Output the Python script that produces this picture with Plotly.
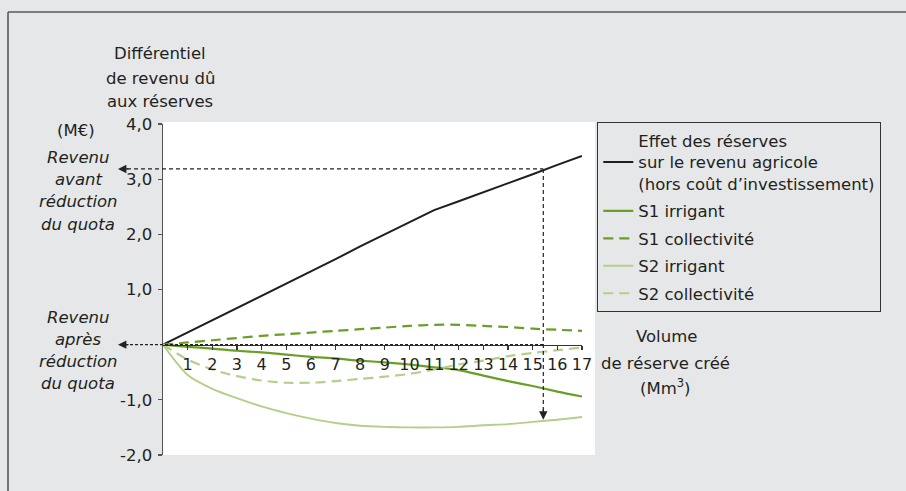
import plotly.graph_objects as go

# ---------------- data ----------------
volume = list(range(0, 18))
effet_total = [0.0, 0.22, 0.44, 0.67, 0.89, 1.11, 1.33, 1.55, 1.78, 2.0, 2.22, 2.44,
               2.6, 2.76, 2.92, 3.09, 3.26, 3.42]
s1_irrigant = [0.0, -0.04, -0.07, -0.11, -0.14, -0.18, -0.22, -0.25, -0.29, -0.32, -0.36,
               -0.41, -0.46, -0.56, -0.66, -0.75, -0.85, -0.94]
s1_collectivite = [0.0, 0.04, 0.08, 0.12, 0.16, 0.19, 0.22, 0.25, 0.28, 0.31, 0.34, 0.36,
                   0.36, 0.34, 0.32, 0.29, 0.27, 0.25]
s2_irrigant = [0.0, -0.55, -0.80, -0.97, -1.12, -1.24, -1.34, -1.42, -1.47, -1.49, -1.50,
               -1.50, -1.49, -1.46, -1.44, -1.40, -1.36, -1.31]
s2_collectivite = [0.0, -0.27, -0.45, -0.57, -0.65, -0.69, -0.69, -0.66, -0.62, -0.58, -0.53,
                   -0.45, -0.36, -0.29, -0.21, -0.15, -0.10, -0.05]

series_names = ["Effet des réserves<br>sur le revenu agricole<br>(hors coût d’investissement)",
                "S1 irrigant", "S1 collectivité", "S2 irrigant", "S2 collectivité"]

x_tickvals = list(range(1, 18))
x_ticktext = [str(v) for v in x_tickvals]
y_tickvals = [-2, -1, 1, 2, 3, 4]
y_ticktext = ["-2,0", "-1,0", "1,0", "2,0", "3,0", "4,0"]

# reading guide (volume giving the "before quota reduction" income)
guide_x = 15.43
guide_y_top = 3.185
guide_y_bottom = -1.36

# ---------------- layout helpers ----------------
W, H = 906, 491
ML, MR, MT, MB = 163, 311, 122, 36
PW, PH = W - ML - MR, H - MT - MB
X_MAX = 17
Y_MIN, Y_MAX = -2, 4
XD = (582 - ML) / PW     # x-axis domain end
YD = (455 - 124) / PH    # y-axis domain top


def px(X):
    return (X - ML) / PW


def py(Y):
    return (H - MB - Y) / PH


def xdata_to_paper(v):
    return XD * v / X_MAX


FONT = "DejaVu Sans"
TXT = "#231f20"
BG = "#e6e7e8"
DARK_GREEN = "#6a9e25"
LIGHT_GREEN = "#b3cf8a"

fig = go.Figure()

styles = [
    dict(color="#1e1e1e", width=2.0, dash="solid", shape="linear"),
    dict(color=DARK_GREEN, width=2.2, dash="solid", shape="spline"),
    dict(color=DARK_GREEN, width=2.2, dash="10px,6px", shape="spline"),
    dict(color=LIGHT_GREEN, width=1.9, dash="solid", shape="spline"),
    dict(color=LIGHT_GREEN, width=2.2, dash="10px,6px", shape="spline"),
]
values = [effet_total, s1_irrigant, s1_collectivite, s2_irrigant, s2_collectivite]

for i, (name, vals, st) in enumerate(zip(series_names, values, styles)):
    fig.add_trace(go.Scatter(
        x=volume, y=vals, mode="lines", name=name, legendgroup=f"g{i}",
        line=dict(color=st["color"], width=st["width"], dash=st["dash"],
                  shape=st["shape"], smoothing=0.8 if st["shape"] == "spline" else None),
        hoverinfo="skip", cliponaxis=False,
    ))

shapes = []
# white plotting area
shapes.append(dict(type="rect", xref="paper", yref="paper", x0=0, x1=1, y0=0, y1=1,
                   fillcolor="white", line=dict(width=0), layer="below"))
# outer frame (top and left)
shapes.append(dict(type="line", xref="paper", yref="paper", x0=px(8), x1=px(906),
                   y0=py(12), y1=py(12), line=dict(color="#58595b", width=1.6)))
shapes.append(dict(type="line", xref="paper", yref="paper", x0=px(8), x1=px(8),
                   y0=py(12), y1=py(491), line=dict(color="#58595b", width=1.6)))
# reading guides
shapes.append(dict(type="line", xref="paper", yref="y", x0=px(120), x1=xdata_to_paper(guide_x),
                   y0=guide_y_top, y1=guide_y_top, line=dict(color="#222", width=1.2, dash="4px,3px")))
shapes.append(dict(type="line", xref="x", yref="y", x0=guide_x, x1=guide_x,
                   y0=guide_y_top, y1=guide_y_bottom + 0.1, line=dict(color="#222", width=1.2, dash="4px,3px")))
shapes.append(dict(type="line", xref="paper", yref="y", x0=px(120), x1=xdata_to_paper(guide_x),
                   y0=0, y1=0, line=dict(color="#222", width=1.4, dash="3px,2px")))

annotations = []
# arrow heads
annotations.append(dict(xref="paper", yref="y", x=px(118), y=guide_y_top, ax=12, ay=0, text="",
                        showarrow=True, arrowhead=2, arrowsize=1.4, arrowwidth=1.2, arrowcolor="#222"))
annotations.append(dict(xref="paper", yref="y", x=px(118), y=0, ax=12, ay=0, text="",
                        showarrow=True, arrowhead=2, arrowsize=1.4, arrowwidth=1.2, arrowcolor="#222"))
annotations.append(dict(xref="x", yref="y", x=guide_x, y=guide_y_bottom, ax=0, ay=-12, text="",
                        showarrow=True, arrowhead=2, arrowsize=1.4, arrowwidth=1.2, arrowcolor="#222"))


def label(text, X, Y, italic=False, size=16.5):
    t = f"<i>{text}</i>" if italic else text
    annotations.append(dict(xref="paper", yref="paper", x=px(X), y=py(Y), text=t,
                            showarrow=False, xanchor="center", yanchor="middle",
                            font=dict(family=FONT, size=size, color=TXT)))


label("Différentiel", 160, 54)
label("de revenu dû", 160, 78)
label("aux réserves", 160, 101)
label("(M€)", 76, 131)
for t, Y in [("Revenu", 157), ("avant", 179), ("réduction", 201), ("du quota", 224)]:
    label(t, 78, Y, italic=True)
for t, Y in [("Revenu", 317), ("après", 339), ("réduction", 361), ("du quota", 383)]:
    label(t, 78, Y, italic=True)
label("Volume", 666, 336)
label("de réserve créé", 665, 363)
label("(Mm<sup>3</sup>)", 665, 387)

fig.update_layout(
    width=W, height=H,
    margin=dict(l=ML, r=MR, t=MT, b=MB, pad=0),
    paper_bgcolor=BG, plot_bgcolor="rgba(0,0,0,0)",
    font=dict(family=FONT, size=16.5, color=TXT),
    shapes=shapes, annotations=annotations,
    showlegend=True,
    legend=dict(x=px(597), y=py(122), xanchor="left", yanchor="top",
                bgcolor=BG, bordercolor="#333", borderwidth=1.3,
                font=dict(family=FONT, size=16.5, color=TXT),
                tracegroupgap=3, valign="middle"),
    xaxis=dict(range=[0, X_MAX], domain=[0, XD], anchor="free",
               position=(0 - Y_MIN) / (Y_MAX - Y_MIN) * YD,
               showline=True, linecolor="#333", linewidth=1.5,
               ticks="outside", ticklen=4, tickwidth=1.2, tickcolor="#333",
               tickvals=x_tickvals, ticktext=x_ticktext, ticklabelstandoff=1,
               tickfont=dict(family=FONT, size=16, color=TXT),
               showgrid=False, zeroline=False, fixedrange=True),
    yaxis=dict(range=[Y_MIN, Y_MAX], domain=[0, YD],
               showline=True, linecolor="#555", linewidth=1.5,
               ticks="outside", ticklen=4, tickwidth=1.2, tickcolor="#555",
               tickvals=y_tickvals, ticktext=y_ticktext, ticklabelstandoff=2,
               tickfont=dict(family=FONT, size=16.5, color=TXT),
               showgrid=False, zeroline=False, fixedrange=True),
)

fig.write_html("out.html", config={"displayModeBar": False, "staticPlot": True},
               post_script="document.body.style.margin='0';document.body.style.overflow='hidden';")
